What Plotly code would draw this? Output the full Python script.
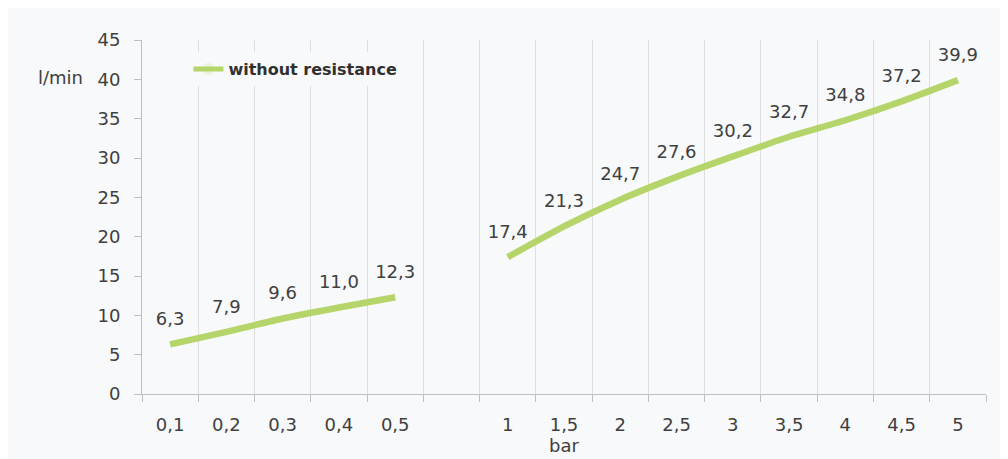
import plotly.graph_objects as go

categories = ["0,1", "0,2", "0,3", "0,4", "0,5", " ", "1", "1,5", "2", "2,5", "3", "3,5", "4", "4,5", "5"]
flow = [6.3, 7.9, 9.6, 11.0, 12.3, None, 17.4, 21.3, 24.7, 27.6, 30.2, 32.7, 34.8, 37.2, 39.9]
labels = ["" if v is None else f"{v:.1f}".replace(".", ",") for v in flow]

FONT = "DejaVu Sans"
TXT = "#404040"

fig = go.Figure()
fig.add_trace(go.Scatter(
    x=categories, y=flow, name="without resistance",
    mode="lines+markers+text", text=labels, textposition="top center",
    textfont=dict(family=FONT, size=18, color=TXT),
    line=dict(color="#b5d56b", width=6.5, shape="spline", smoothing=0.6),
    marker=dict(size=22, opacity=0, color="#b5d56b"),
    connectgaps=False, cliponaxis=False,
))

fig.update_layout(
    width=1008, height=459,
    margin=dict(l=134, r=30, t=32, b=73, autoexpand=False),
    paper_bgcolor="#f8f9fa", plot_bgcolor="#f8f9fa",
    font=dict(family=FONT, size=18, color=TXT),
    showlegend=True,
    legend=dict(x=0.055, y=0.966, xanchor="left", yanchor="top",
                bgcolor="#f8f9fa", font=dict(family=FONT, size=16, color="#303030", weight="bold"),
                itemsizing="constant"),
    xaxis=dict(type="category", categoryorder="array", categoryarray=categories,
               tickson="boundaries", showgrid=True, gridcolor="#dedede", gridwidth=1,
               showline=True, linecolor="#bfbfbf", ticks="outside", ticklen=7, tickcolor="#bfbfbf",
               tickfont=dict(size=18, color=TXT), ticklabelstandoff=14, automargin=False,
               title=dict(text="bar", font=dict(size=18, color=TXT), standoff=3),
               range=[-0.5, 14.5], zeroline=False),
    yaxis=dict(range=[0, 45], dtick=5, tick0=0, showgrid=False, automargin=False,
               showline=True, linecolor="#bfbfbf", ticks="outside", ticklen=7, tickcolor="#bfbfbf",
               tickfont=dict(size=18, color=TXT), ticklabelstandoff=10, zeroline=False),
    annotations=[dict(text="l/min", xref="paper", yref="paper", x=-0.068, y=0.895,
                      xanchor="right", yanchor="middle", showarrow=False,
                      font=dict(family=FONT, size=18, color=TXT))],
)

fig.write_html("out.html")
